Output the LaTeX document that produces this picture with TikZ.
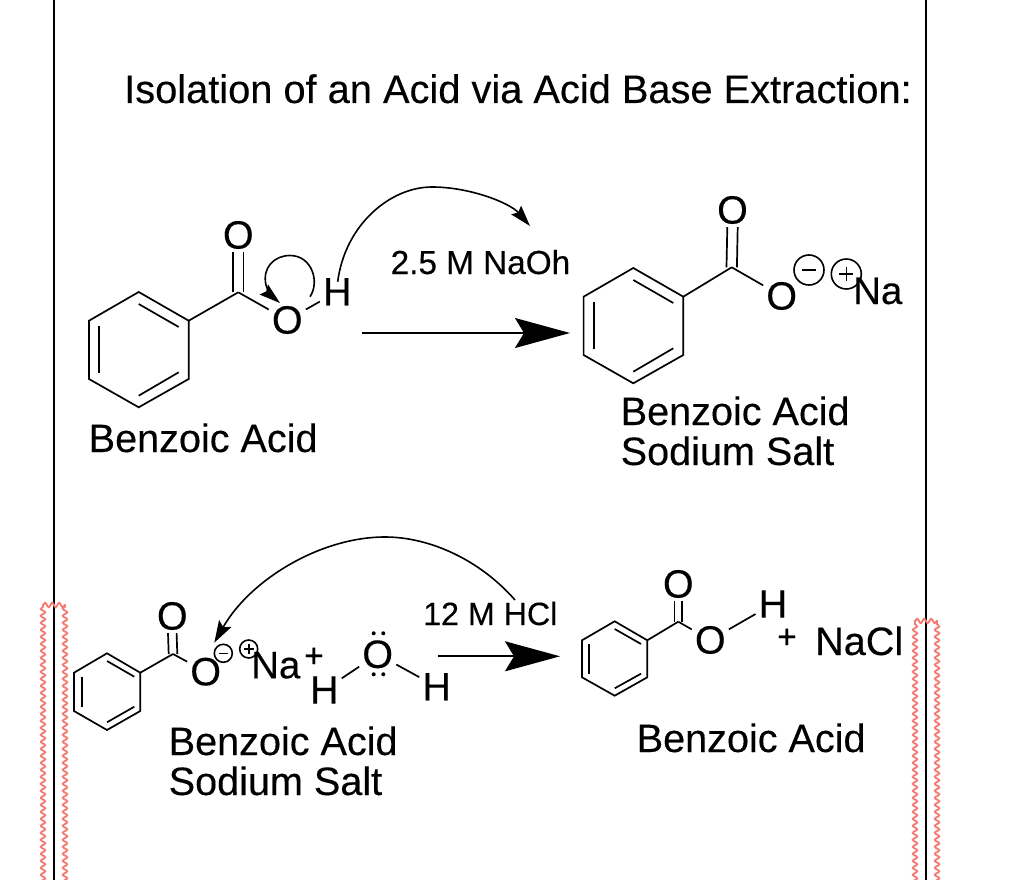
\documentclass[tikz,border=0pt]{standalone}
\usepackage{fontspec}
\setmainfont{Liberation Sans}[FakeBold=0.25]
\usetikzlibrary{arrows.meta,decorations.pathmorphing}
\tikzset{
  bond/.style={line width=1.7pt,line join=miter},
  atom/.style={inner sep=3pt,font=\fontsize{39.5}{39.5}\selectfont},
  label/.style={inner sep=0pt,anchor=base west,font=\fontsize{39.6}{39.6}\selectfont},
  nalabel/.style={inner sep=0pt,anchor=base west,font=\fontsize{38.5}{38.5}\selectfont},
  cond/.style={inner sep=0pt,anchor=base west,font=\fontsize{33.3}{33.3}\selectfont},
  frameline/.style={line width=1.8pt,black},
  wavy/.style={line width=1.8pt,line cap=round,color=wavered,decorate,decoration={snake,amplitude=2.2pt,segment length=7pt}},
  charge/.style={circle,draw,line width=1.6pt,inner sep=0pt},
  curly/.style={line width=1.6pt,-{Stealth[length=21pt,width=13pt,inset=3pt]}},
  rxn/.style={line width=1.7pt,-{Stealth[length=55pt,width=30pt,inset=9pt]}},
  lp/.style={circle,fill,inner sep=0pt,minimum size=4pt}
}
\definecolor{wavered}{HTML}{F47A70}
\begin{document}
\begin{tikzpicture}[x=1pt,y=-1pt]
\useasboundingbox (0,0) rectangle (1018,880);
% frame
\coordinate (fla) at (54,0); \coordinate (flb) at (54,880);
\coordinate (fra) at (926,0); \coordinate (frb) at (926,880);
\draw[frameline] (fla) -- (flb);
\draw[frameline] (fra) -- (frb);
% wavy margins
\coordinate (wl1) at (43,884); \coordinate (wl2) at (43,605); \coordinate (wl3) at (65,605); \coordinate (wl4) at (65,884);
\coordinate (wr1) at (915,884); \coordinate (wr2) at (915,621); \coordinate (wr3) at (937,621); \coordinate (wr4) at (937,884);
\draw[wavy] (wl1) -- (wl2);
\draw[wavy] (wl2) -- (wl3);
\draw[wavy] (wl4) -- (wl3);
\draw[wavy] (wr1) -- (wr2);
\draw[wavy] (wr2) -- (wr3);
\draw[wavy] (wr4) -- (wr3);
% title
\node[label,font=\fontsize{39.8}{39.8}\selectfont] (title) at (124,103) {Isolation of an Acid via Acid Base Extraction:};

% === benzoic acid, top left ===
\coordinate (a1) at (138.7,292); \coordinate (a2) at (188.7,320.7); \coordinate (a3) at (188.7,379);
\coordinate (a4) at (138.7,407.3); \coordinate (a5) at (89,379); \coordinate (a6) at (89,320.7);
\draw[bond] (a1) -- (a2) -- (a3) -- (a4) -- (a5) -- (a6) -- cycle;
\coordinate (ai1) at (138.7,304); \coordinate (ai2) at (178.7,327);
\coordinate (ai3) at (178.7,372.3); \coordinate (ai4) at (138.7,395.7);
\coordinate (ai5) at (99.3,373.3); \coordinate (ai6) at (99.3,326);
\draw[bond] (ai1) -- (ai2); \draw[bond] (ai3) -- (ai4); \draw[bond] (ai5) -- (ai6);
\coordinate (ac) at (238.3,292.3);
\node[atom] (aO1) at (238.3,235) {O};
\node[atom] (aO2) at (287.3,320) {O};
\node[atom] (aH) at (337.3,291.7) {H};
\draw[bond] (a2) -- (ac);
\draw[bond] (ac) -- (aO2);
\draw[bond] (aO2) -- (aH);
\draw[bond] ([xshift=-5.2pt]ac) -- ([xshift=-5.2pt]aO1.south);
\draw[bond] ([xshift=5.2pt]ac) -- ([xshift=5.2pt]aO1.south);
\node[label] (lbA) at (88.5,452) {Benzoic Acid};
% curly arrows
\coordinate (ca1) at (310,296.7); \coordinate (ca2) at (290,255.5); \coordinate (ca3) at (266,285); \coordinate (ca4) at (280,303);
\draw[curly] (ca1) .. controls (320,282) and (312,255.5) .. (ca2) .. controls (274,255.5) and (262,268) .. (ca3) .. controls (268,292) and (274,298) .. (ca4);
\coordinate (cb1) at (337.7,281.7); \coordinate (cb2) at (432,187); \coordinate (cb3) at (530,226);
\draw[curly] (cb1) .. controls (345,225) and (390,187) .. (cb2) .. controls (470,187) and (510,203) .. (cb3);
\node[cond] (c1) at (390.5,274) {2.5 M NaOh};
\coordinate (r1a) at (362,333); \coordinate (r1b) at (570,333);
\draw[rxn] (r1a) -- (r1b);

% === sodium salt, top right ===
\coordinate (b1) at (633.3,268); \coordinate (b2) at (683.3,296.7); \coordinate (b3) at (683.3,355);
\coordinate (b4) at (633.3,383.3); \coordinate (b5) at (583.6,355); \coordinate (b6) at (583.6,296.7);
\draw[bond] (b1) -- (b2) -- (b3) -- (b4) -- (b5) -- (b6) -- cycle;
\coordinate (bi1) at (633.3,280); \coordinate (bi2) at (673.3,303);
\coordinate (bi3) at (673.3,348.3); \coordinate (bi4) at (633.3,371.7);
\coordinate (bi5) at (593.9,349.3); \coordinate (bi6) at (593.9,302);
\draw[bond] (bi1) -- (bi2); \draw[bond] (bi3) -- (bi4); \draw[bond] (bi5) -- (bi6);
\coordinate (bc) at (731.7,267.3);
\node[atom] (bO1) at (732.5,210) {O};
\node[atom] (bO2) at (781.7,296) {O};
\draw[bond] (b2) -- (bc);
\draw[bond] (bc) -- (bO2);
\draw[bond] ([xshift=-5.2pt]bc) -- ([xshift=-5.2pt]bO1.south);
\draw[bond] ([xshift=5.2pt]bc) -- ([xshift=5.2pt]bO1.south);
\node[charge,minimum size=30pt] (bm) at (809,270) {};
\node[charge,minimum size=30pt] (bp) at (846.3,274) {};
\coordinate (bma) at (802,270); \coordinate (bmb) at (816,270);
\draw[line width=1.6pt] (bma) -- (bmb);
\coordinate (bpa) at (839.3,274); \coordinate (bpb) at (853.3,274); \coordinate (bpc) at (846.3,267); \coordinate (bpd) at (846.3,281);
\draw[line width=1.6pt] (bpa) -- (bpb); \draw[line width=1.6pt] (bpc) -- (bpd);
\node[nalabel] (bNa) at (853,304) {Na};
\node[label] (lbB1) at (620.5,425) {Benzoic Acid};
\node[label] (lbB2) at (620.5,465) {Sodium Salt};

% === sodium salt + water, bottom left ===
\coordinate (d1) at (107,653.3); \coordinate (d2) at (140.3,672.7); \coordinate (d3) at (140.3,711);
\coordinate (d4) at (107,730); \coordinate (d5) at (74,711); \coordinate (d6) at (74,672.7);
\draw[bond] (d1) -- (d2) -- (d3) -- (d4) -- (d5) -- (d6) -- cycle;
\coordinate (di1) at (107,661); \coordinate (di2) at (134.3,676.7);
\coordinate (di3) at (134.3,706.7); \coordinate (di4) at (107,722.3);
\coordinate (di5) at (81.7,706.7); \coordinate (di6) at (81.7,676.7);
\draw[bond] (di1) -- (di2); \draw[bond] (di3) -- (di4); \draw[bond] (di5) -- (di6);
\coordinate (dc) at (173,654);
\node[atom] (dO1) at (172.3,616) {O};
\node[atom] (dO2) at (205.7,671.7) {O};
\draw[bond] (d2) -- (dc);
\draw[bond] (dc) -- (dO2);
\draw[bond] ([xshift=-4.3pt]dc) -- ([xshift=-4.3pt]dO1.south);
\draw[bond] ([xshift=4.3pt]dc) -- ([xshift=4.3pt]dO1.south);
\node[charge,minimum size=18pt] (dm) at (223.3,653.3) {};
\node[charge,minimum size=18pt] (dp) at (248.7,649) {};
\coordinate (dma) at (218.5,653.3); \coordinate (dmb) at (228,653.3);
\draw[line width=1.6pt] (dma) -- (dmb);
\coordinate (dpa) at (244,649); \coordinate (dpb) at (253.5,649); \coordinate (dpc) at (248.7,644.2); \coordinate (dpd) at (248.7,653.8);
\draw[line width=1.6pt] (dpa) -- (dpb); \draw[line width=1.6pt] (dpc) -- (dpd);
\node[nalabel] (dNa) at (251,678.3) {Na};
\node[cond] (dplus) at (304,667) {+};
\node[atom] (wH1) at (324.3,690) {H};
\node[atom] (wO) at (377.7,654.3) {O};
\node[atom] (wH2) at (436.7,686.7) {H};
\draw[bond] (wH1) -- (wO);
\draw[bond] (wO) -- (wH2);
\node[lp] (wl1p) at (373.7,633.3) {}; \node[lp] (wl2p) at (383.3,633.3) {};
\node[lp] (wl3p) at (373.7,674.3) {}; \node[lp] (wl4p) at (383.3,674.3) {};
\coordinate (ce1) at (515,600); \coordinate (ce2) at (385,537); \coordinate (ce3) at (214.3,642.7);
\draw[curly,-{Stealth[length=22pt,width=14pt,inset=4pt]}] (ce1) .. controls (480,560) and (430,537) .. (ce2) .. controls (320,537) and (250,580) .. (ce3);
\node[label] (lbD1) at (168.5,755) {Benzoic Acid};
\node[label] (lbD2) at (168.5,795) {Sodium Salt};
\node[cond,font=\fontsize{32.2}{32.2}\selectfont] (c2) at (423,625) {12 M HCl};
\coordinate (r2a) at (438.3,656.3); \coordinate (r2b) at (560,656.3);
\draw[rxn] (r2a) -- (r2b);

% === benzoic acid, bottom right ===
\coordinate (e1) at (614.7,621.3); \coordinate (e2) at (647.3,640.3); \coordinate (e3) at (647.3,677.3);
\coordinate (e4) at (614.7,695.7); \coordinate (e5) at (582,677.3); \coordinate (e6) at (582,640.3);
\draw[bond] (e1) -- (e2) -- (e3) -- (e4) -- (e5) -- (e6) -- cycle;
\coordinate (ei1) at (614.7,629); \coordinate (ei2) at (641,644);
\coordinate (ei3) at (641,673.7); \coordinate (ei4) at (614.7,688.3);
\coordinate (ei5) at (589.3,673.7); \coordinate (ei6) at (589.3,644);
\draw[bond] (ei1) -- (ei2); \draw[bond] (ei3) -- (ei4); \draw[bond] (ei5) -- (ei6);
\coordinate (ec) at (678.3,621.7);
\node[atom] (eO1) at (678.3,584) {O};
\node[atom] (eO2) at (710.3,640) {O};
\node[atom] (eH) at (773,604) {H};
\draw[bond] (e2) -- (ec);
\draw[bond] (ec) -- (eO2);
\draw[bond] (eO2) -- (eH);
\draw[bond] ([xshift=-3.7pt]ec) -- ([xshift=-3.7pt]eO1.south);
\draw[bond] ([xshift=3.7pt]ec) -- ([xshift=3.7pt]eO1.south);
\node[cond] (eplus) at (777,648) {+};
\node[label] (eNaCl) at (815,655) {NaCl};
\node[label] (lbE) at (636.5,752) {Benzoic Acid};
\end{tikzpicture}
\end{document}
